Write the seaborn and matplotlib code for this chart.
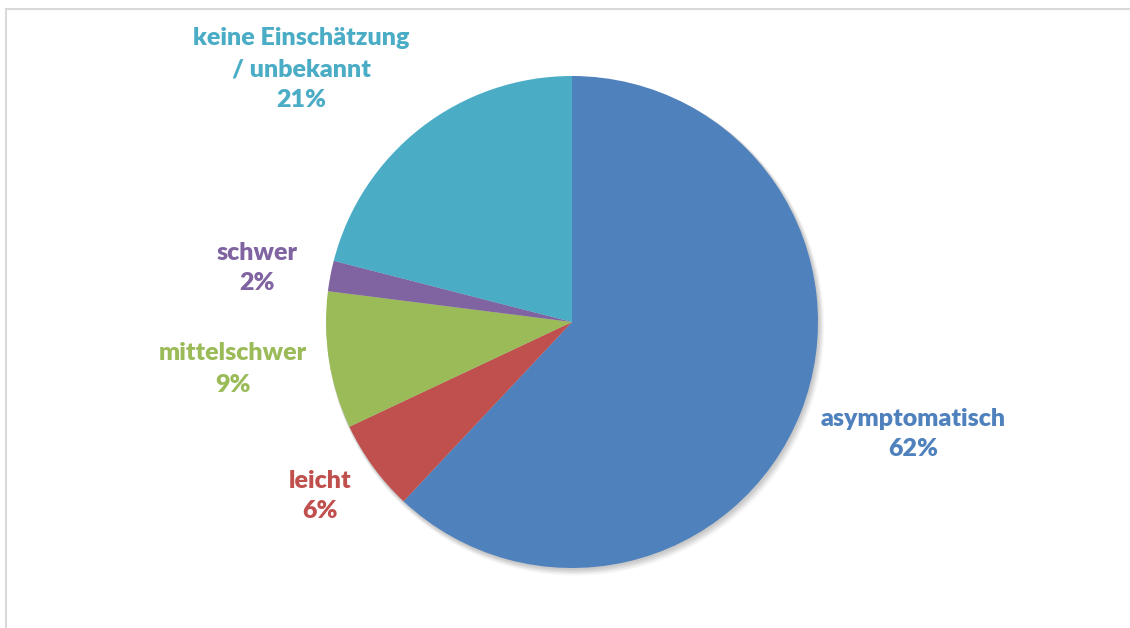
import matplotlib
matplotlib.use("Agg")
import matplotlib.pyplot as plt
from matplotlib.patches import Circle, Rectangle
import seaborn as sns

sns.set_theme(style="white")
plt.rcParams["font.family"] = ["Lato", "DejaVu Sans"]

# Severity categories and their shares (percent)
categories = ["asymptomatisch", "leicht", "mittelschwer", "schwer",
              "keine Einschätzung\n/ unbekannt"]
shares = [62, 6, 9, 2, 21]
colors = ["#4F81BD", "#C0504D", "#9BBB59", "#8064A2", "#4BACC6"]

W, H = 1130, 628
fig = plt.figure(figsize=(W / 100, H / 100), dpi=100)
ax = fig.add_axes([0, 0, 1, 1])

# light frame around the chart area
fig.patches.append(Rectangle((5.5 / W, -0.1), 1.2, (H - 9.5) / H + 0.1,
                             transform=fig.transFigure, fill=False,
                             edgecolor="#d9d9d9", linewidth=1.5))

cx, cy, r = 572, H - 322, 246

# soft drop shadow under the pie
for i, a in enumerate([0.05, 0.05, 0.05, 0.04, 0.03]):
    ax.add_patch(Circle((cx + 1 + i * 0.6, cy - 1.5 - i * 0.8), r + 0.5 + i * 0.6,
                        facecolor="black", alpha=a, edgecolor="none", zorder=1))

wedges, _ = ax.pie(shares, colors=colors, startangle=90, counterclock=False,
                   center=(cx, cy), radius=r, frame=True,
                   wedgeprops=dict(linewidth=0, zorder=2))
ax.set_xlim(0, W)
ax.set_ylim(0, H)
ax.set_aspect("equal")
ax.axis("off")

# label anchor points (centre of each text block)
label_pos = [(913, 434), (320, 496), (233, 369), (257, 268), (301, 69)]
for cat, val, col, (x, y) in zip(categories, shares, colors, label_pos):
    ax.text(x, H - y, f"{cat}\n{val}%", ha="center", va="center",
            color=col, fontsize=18, fontweight="heavy", linespacing=1.5,
            zorder=3)

fig.savefig("out.png", dpi=100, facecolor="white")
